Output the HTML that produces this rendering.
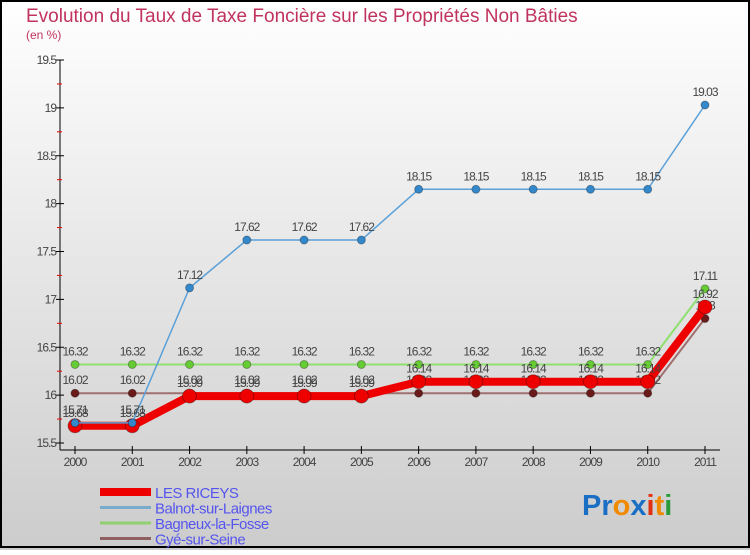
<!DOCTYPE html>
<html><head><meta charset="utf-8"><style>
body{margin:0;width:750px;height:550px;overflow:hidden;font-family:"Liberation Sans",sans-serif}
</style></head><body>
<svg id="c" width="750" height="550" xmlns="http://www.w3.org/2000/svg">
<defs><linearGradient id="bg" x1="0" y1="0" x2="0" y2="1"><stop offset="0" stop-color="#ffffff"/><stop offset="1" stop-color="#cccccc"/></linearGradient></defs>
<rect x="0" y="0" width="750" height="550" fill="url(#bg)"/>
<rect x="1" y="1" width="748" height="546" fill="none" stroke="#000" stroke-width="2"/>
<text x="26" y="22" font-size="19" fill="#c0335e">Evolution du Taux de Taxe Foncière sur les Propriétés Non Bâties</text>
<text x="26" y="39" font-size="12" fill="#c0335e">(en %)</text>
<g id="axes"></g><g id="series"></g><g id="legend"></g>
<text x="582" y="515" font-size="29" font-weight="bold"><tspan fill="#1a6fc4">Pr</tspan><tspan fill="#2a9a3a"></tspan><tspan fill="#f08a00">o</tspan><tspan fill="#1a6fc4">x</tspan><tspan fill="#e03010">i</tspan><tspan fill="#f08a00">t</tspan><tspan fill="#2a9a3a">i</tspan></text>
</svg>
<script>
const years=[2000,2001,2002,2003,2004,2005,2006,2007,2008,2009,2010,2011];
const riceys=[15.68,15.68,15.99,15.99,15.99,15.99,16.14,16.14,16.14,16.14,16.14,16.92];
const balnot=[15.71,15.71,17.12,17.62,17.62,17.62,18.15,18.15,18.15,18.15,18.15,19.03];
const bagneux=[16.32,16.32,16.32,16.32,16.32,16.32,16.32,16.32,16.32,16.32,16.32,17.11];
const gye=[16.02,16.02,16.02,16.02,16.02,16.02,16.02,16.02,16.02,16.02,16.02,16.8];
const yTicks=[15.5,16,16.5,17,17.5,18,18.5,19,19.5];
const yTickLabels=["15.5","16","16.5","17","17.5","18","18.5","19","19.5"];
const seriesNames=["LES RICEYS","Balnot-sur-Laignes","Bagneux-la-Fosse","Gyé-sur-Seine"];
const NS="http://www.w3.org/2000/svg";
const X=i=>75+i*(630/11);
const Y=v=>443-(v-15.5)*95.75;
function mk(p,tag,a){const e=document.createElementNS(NS,tag);for(const k in a)e.setAttribute(k,a[k]);p.appendChild(e);return e;}
const ax=document.getElementById('axes');
let l=mk(ax,'line',{x1:60,y1:60,x2:60,y2:450,stroke:'#000'});

l=mk(ax,'line',{x1:60,y1:450,x2:720,y2:450,stroke:'#000'});

yTicks.forEach((v,i)=>{
 const t=mk(ax,'line',{x1:56,y1:Y(v),x2:64,y2:Y(v),stroke:'#000'});
 
 if(i<yTicks.length-1){const m=mk(ax,'line',{x1:57,y1:Y(v+0.25),x2:62,y2:Y(v+0.25),stroke:'#e00'});
 }
 const tx=mk(ax,'text',{x:56,y:Y(v)+4,'text-anchor':'end','font-size':12,fill:'#444','letter-spacing':'-1'});
 tx.textContent=yTickLabels[i];
});
years.forEach((yr,i)=>{
 const t=mk(ax,'line',{x1:X(i),y1:446,x2:X(i),y2:454,stroke:'#000'});
 
 const tx=mk(ax,'text',{x:X(i),y:466,'text-anchor':'middle','font-size':12,fill:'#444','letter-spacing':'-1'});
 tx.textContent=yr;
});
const sg=document.getElementById('series');
const defs=[
 {d:gye,c:'#a07070',dot:'#6b1a1a',w:2,r:4,n:'gye-sur-seine'},
 {d:bagneux,c:'#90e070',dot:'#66cc33',w:2,r:4,n:'bagneux-la-fosse'},
 {d:riceys,c:'#ee0000',dot:'#ee0000',w:8,r:7,n:'les-riceys'},
 {d:balnot,c:'#5aa0d8',dot:'#3388cc',w:1.5,r:4,n:'balnot-sur-laignes'}];
defs.forEach(s=>{
 const g=mk(sg,'g',{});
 const p=mk(g,'polyline',{points:s.d.map((v,i)=>X(i)+','+Y(v)).join(' '),fill:'none',stroke:s.c,'stroke-width':s.w,'stroke-linejoin':'round'});
 
 s.d.forEach((v,i)=>{
  const c=mk(g,'circle',{cx:X(i),cy:Y(v),r:s.r,fill:s.dot,stroke:'rgba(0,0,0,0.3)'});
  
  const t=mk(g,'text',{x:X(i),y:Y(v)-9,'text-anchor':'middle','font-size':12,fill:'#444','letter-spacing':'-1'});
  t.textContent=String(v);
 });
});
const lg=document.getElementById('legend');
const lc=['#ee0000','#7aaacc','#90d070','#906060'];const lw=[8,3,3,3];
seriesNames.forEach((n,i)=>{
 const y=492+i*15.5;
 const ln=mk(lg,'line',{x1:100,y1:y,x2:151,y2:y,stroke:lc[i],'stroke-width':lw[i]});
 
 const t=mk(lg,'text',{x:155,y:y+6,'font-size':15,fill:'#5555ee','letter-spacing':'-0.5'});
 t.textContent=n;
});
</script>
</body></html>
